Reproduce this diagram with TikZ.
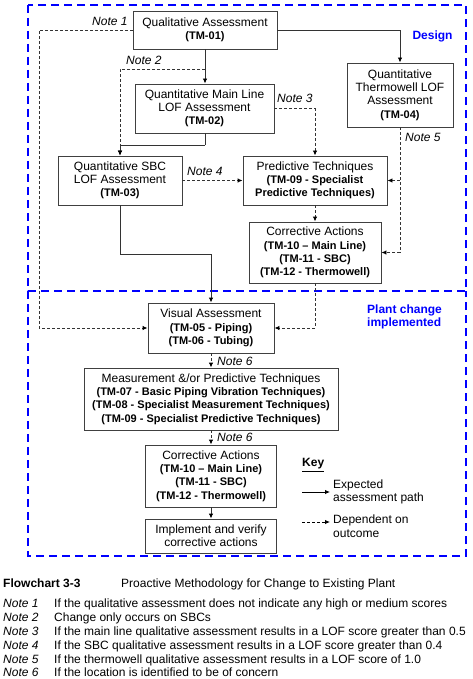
\documentclass[tikz,border=0pt]{standalone}
\usepackage{fontspec}
\setmainfont{Liberation Sans}
\usetikzlibrary{arrows.meta}
\newcommand{\tmb}[1]{{\fontsize{11}{13}\selectfont\bfseries #1}}
\begin{document}
\begin{tikzpicture}[x=1pt,y=-1pt,
  box/.style={draw=black!75, line width=0.9pt, fill=white, inner sep=0pt, align=center,
    font=\fontsize{12}{13.2}\selectfont},
  exp/.style={draw=black!80, line width=0.9pt, -{Latex[length=5pt,width=4.5pt,color=black]}},
  seg/.style={draw=black!80, line width=0.9pt},
  dep/.style={exp, dash pattern=on 3pt off 2pt},
  notelab/.style={font=\fontsize{12}{13}\selectfont\itshape, inner sep=0pt, anchor=west, text height=8.6pt, text depth=0pt},
  zone/.style={draw={rgb,255:red,0;green,0;blue,255}, line width=2.8pt, dash pattern=on 8pt off 5pt},
  zonelab/.style={text={rgb,255:red,0;green,0;blue,255}, font=\fontsize{12}{12.7}\selectfont\bfseries, inner sep=0pt, align=left},
  captext/.style={font=\fontsize{12}{14}\selectfont, inner sep=0pt, anchor=west, text height=8.6pt, text depth=0pt}
]
\useasboundingbox[fill=white] (0,0) rectangle (472,679);

% zones
\draw[zone] (28,5) rectangle (466,291);
\draw[zone] (28,291) -- (28,556) -- (466,556) -- (466,291);
\node[zonelab, anchor=center] (design) at (432.5,36) {Design};
\node[zonelab, anchor=west] (plant) at (367,317) {Plant change\\implemented};

% boxes
\node[box, minimum width=144pt, minimum height=38pt] (tm01) at (205,30) {Qualitative Assessment\\\tmb{(TM-01)}};
\node[box, minimum width=139pt, minimum height=49pt] (tm02) at (204.5,108.5) {Quantitative Main Line\\LOF Assessment\\\tmb{(TM-02)}};
\node[box, minimum width=124pt, minimum height=49pt] (tm03) at (120,180.5) {Quantitative SBC\\LOF Assessment\\\tmb{(TM-03)}};
\node[box, minimum width=106pt, minimum height=64pt] (tm04) at (400,95) {Quantitative\\Thermowell LOF\\Assessment\\\tmb{(TM-04)}};
\node[box, minimum width=144pt, minimum height=49pt] (pred) at (315,180.5) {Predictive Techniques\\\tmb{(TM-09 - Specialist}\\\tmb{Predictive Techniques)}};
\node[box, minimum width=132pt, minimum height=61pt] (corr1) at (315,252.5) {Corrective Actions\\\tmb{(TM-10 -- Main Line)}\\\tmb{(TM-11 - SBC)}\\\tmb{(TM-12 - Thermowell)}};
\node[box, minimum width=126pt, minimum height=50pt] (vis) at (211,328) {Visual Assessment\\\tmb{(TM-05 - Piping)}\\\tmb{(TM-06 - Tubing)}};
\node[box, minimum width=254pt, minimum height=62pt] (meas) at (211,399) {Measurement \&/or Predictive Techniques\\\tmb{(TM-07 - Basic Piping Vibration Techniques)}\\\tmb{(TM-08 - Specialist Measurement Techniques)}\\\tmb{(TM-09 - Specialist Predictive Techniques)}};
\node[box, minimum width=131pt, minimum height=62pt] (corr2) at (211,476) {Corrective Actions\\\tmb{(TM-10 -- Main Line)}\\\tmb{(TM-11 - SBC)}\\\tmb{(TM-12 - Thermowell)}};
\node[box, minimum width=131pt, minimum height=34pt] (impl) at (211,536) {Implement and verify\\corrective actions};

% junction coordinates
\coordinate (n1) at (39,30);
\coordinate (n2) at (205,69);
\coordinate (j2) at (205,145);
\coordinate (j3) at (211,254);

% connectors
\draw[exp] (tm01.south -| n2) -- (tm02.north -| n2);
\draw[exp] (tm01.east) -| (tm04.north);
\draw[dep] (tm01.west) -- (n1) |- (vis.west);
\draw[dep] (n2) -| (tm03.north);
\draw[seg] (tm02.south -| j2) -- (j2);
\draw[exp] (j2) -| (tm03.north);
\draw[dep] (tm02.east) -| (pred.north);
\draw[dep] (tm03.east) -- (pred.west);
\draw[dep] (tm04.south) |- (corr1.east);
\draw[dep] (tm04.south |- pred.east) -- (pred.east);
\draw[dep] (pred.south) -- (corr1.north);
\draw[seg] (tm03.south) |- (j3);
\draw[exp] (j3) -- (vis.north -| j3);
\draw[dep] (corr1.south) |- (vis.east);
\draw[dep] (vis.south) -- (meas.north);
\draw[dep] (meas.south) -- (corr2.north);
\draw[exp] (corr2.south) -- (impl.north);

% note labels
\node[notelab] (l1) at (92,21) {Note 1};
\node[notelab] (l2) at (126,60) {Note 2};
\node[notelab] (l3) at (277,98) {Note 3};
\node[notelab] (l4) at (187,171) {Note 4};
\node[notelab] (l5) at (405,137) {Note 5};
\node[notelab] (l6a) at (217,361) {Note 6};
\node[notelab] (l6b) at (217,437) {Note 6};

% key
\node[inner sep=0pt, anchor=west, font=\fontsize{12}{13}\selectfont\bfseries] (key) at (302,465) {\underline{Key}};
\coordinate (ka1) at (302,492);
\coordinate (ka2) at (330,492);
\coordinate (kb1) at (302,522);
\coordinate (kb2) at (330,522);
\draw[exp, draw=black] (ka1) -- (ka2);
\draw[dep, draw=black] (kb1) -- (kb2);
\node[inner sep=0pt, anchor=west, align=left, font=\fontsize{12}{13.5}\selectfont] (kt1) at (333,492) {Expected\\assessment path};
\node[inner sep=0pt, anchor=west, align=left, font=\fontsize{12}{13.5}\selectfont] (kt2) at (333,526) {Dependent on\\outcome};

% caption
\node[captext, font=\fontsize{12}{14}\selectfont\bfseries] (fc) at (3,583) {Flowchart 3-3};
\node[captext] (fct) at (121,583) {Proactive Methodology for Change to Existing Plant};
\foreach \i/\yy/\t in {1/603/{If the qualitative assessment does not indicate any high or medium scores},
  2/617/{Change only occurs on SBCs},
  3/631/{If the main line qualitative assessment results in a LOF score greater than 0.5},
  4/645/{If the SBC qualitative assessment results in a LOF score greater than 0.4},
  5/659/{If the thermowell qualitative assessment results in a LOF score of 1.0},
  6/672/{If the location is identified to be of concern}}{
  \node[captext, font=\fontsize{12}{14}\selectfont\itshape] (nl\i) at (3,\yy) {Note \i};
  \node[captext] (nt\i) at (54,\yy) {\t};
}
\end{tikzpicture}
\end{document}
